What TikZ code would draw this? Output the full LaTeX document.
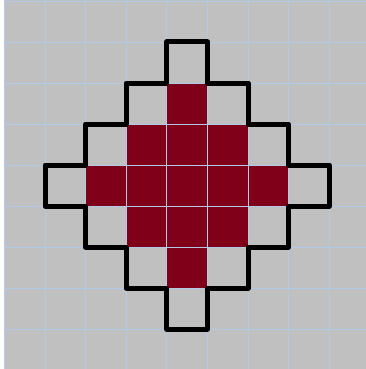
\documentclass[tikz,border=0pt]{standalone}
\definecolor{bggray}{RGB}{192,192,192}
\definecolor{gridblue}{RGB}{176,202,232}
\definecolor{cellred}{RGB}{128,0,26}
\begin{document}
\begin{tikzpicture}[x=1pt,y=-1pt,
  gridline/.style={draw=gridblue,line width=0.9pt},
  redcell/.style={fill=cellred},
  outline/.style={draw=black,line width=5pt,line join=round,line cap=round}]
\def\cw{40.6}\def\ch{41}\def\ox{4.4}\def\oy{1}
\useasboundingbox (0,0) rectangle (366,369);
\fill[white] (0,0) rectangle (366,369);
\fill[bggray] (\ox,0) rectangle (366,369);
% red cells: |dx|+|dy|<=2 around (4,4)
\foreach \c/\r in {4/2, 3/3,4/3,5/3, 2/4,3/4,4/4,5/4,6/4, 3/5,4/5,5/5, 4/6}{
  \fill[redcell] ({\ox+\c*\cw},{\oy+\r*\ch}) rectangle ({\ox+(\c+1)*\cw},{\oy+(\r+1)*\ch});
}
% grid
\foreach \k in {0,...,9}{
  \draw[gridline] ({\ox+\k*\cw},0) -- ({\ox+\k*\cw},369);
  \draw[gridline] (\ox,{\oy+\k*\ch}) -- (366,{\oy+\k*\ch});
}
% outline
\draw[outline]
  ({\ox+4*\cw},{\oy+1*\ch}) -- ({\ox+5*\cw},{\oy+1*\ch}) -- ({\ox+5*\cw},{\oy+2*\ch})
  -- ({\ox+6*\cw},{\oy+2*\ch}) -- ({\ox+6*\cw},{\oy+3*\ch}) -- ({\ox+7*\cw},{\oy+3*\ch})
  -- ({\ox+7*\cw},{\oy+4*\ch}) -- ({\ox+8*\cw},{\oy+4*\ch}) -- ({\ox+8*\cw},{\oy+5*\ch})
  -- ({\ox+7*\cw},{\oy+5*\ch}) -- ({\ox+7*\cw},{\oy+6*\ch}) -- ({\ox+6*\cw},{\oy+6*\ch})
  -- ({\ox+6*\cw},{\oy+7*\ch}) -- ({\ox+5*\cw},{\oy+7*\ch}) -- ({\ox+5*\cw},{\oy+8*\ch})
  -- ({\ox+4*\cw},{\oy+8*\ch}) -- ({\ox+4*\cw},{\oy+7*\ch}) -- ({\ox+3*\cw},{\oy+7*\ch})
  -- ({\ox+3*\cw},{\oy+6*\ch}) -- ({\ox+2*\cw},{\oy+6*\ch}) -- ({\ox+2*\cw},{\oy+5*\ch})
  -- ({\ox+1*\cw},{\oy+5*\ch}) -- ({\ox+1*\cw},{\oy+4*\ch}) -- ({\ox+2*\cw},{\oy+4*\ch})
  -- ({\ox+2*\cw},{\oy+3*\ch}) -- ({\ox+3*\cw},{\oy+3*\ch}) -- ({\ox+3*\cw},{\oy+2*\ch})
  -- ({\ox+4*\cw},{\oy+2*\ch}) -- cycle;
\end{tikzpicture}
\end{document}
